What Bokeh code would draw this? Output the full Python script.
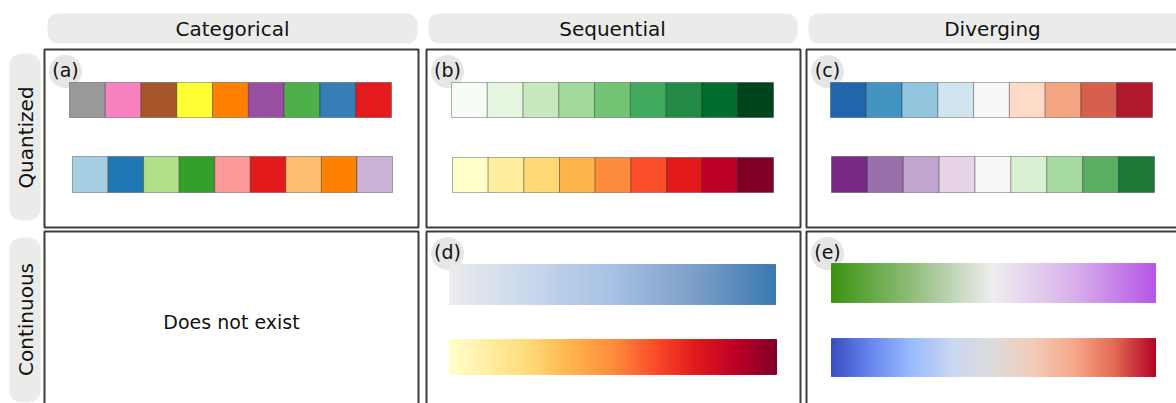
import numpy as np
from bokeh.plotting import figure
from bokeh.models import Range1d, BoxAnnotation, ColumnDataSource
from bokeh.core.properties import value
from bokeh.embed import file_html
from bokeh.resources import INLINE

# ---------------- data ----------------
col_titles = ["Categorical", "Sequential", "Diverging"]
row_titles = ["Quantized", "Continuous"]
panel_labels = ["(a)", "(b)", "(c)", "(d)", "(e)"]
missing_text = "Does not exist"

cat_set1 = ["#999999", "#f781bf", "#a65628", "#ffff33", "#ff7f00",
            "#984ea3", "#4daf4a", "#377eb8", "#e41a1c"]
cat_paired = ["#a6cee3", "#1f78b4", "#b2df8a", "#33a02c", "#fb9a99",
              "#e31a1c", "#fdbf6f", "#ff7f00", "#cab2d6"]
seq_greens = ["#f7fcf5", "#e5f5e0", "#c7e9c0", "#a1d99b", "#74c476",
              "#41ab5d", "#238b45", "#006d2c", "#00441b"]
seq_ylorrd = ["#ffffcc", "#ffeda0", "#fed976", "#feb24c", "#fd8d3c",
              "#fc4e2a", "#e31a1c", "#bd0026", "#800026"]
div_rdbu = ["#2166ac", "#4393c3", "#92c5de", "#d1e5f0", "#f7f7f7",
            "#fddbc7", "#f4a582", "#d6604d", "#b2182b"]
div_prgn = ["#762a83", "#9970ab", "#c2a5cf", "#e7d4e8", "#f7f7f7",
            "#d9f0d3", "#a6dba0", "#5aae61", "#1b7837"]

cont_blues = ["#ececec", "#c8d7ec", "#a6c1e3", "#7d9fc8", "#3b79b2"]
cont_ylorrd = ["#ffffcc", "#ffeda0", "#fed976", "#feb24c", "#fd8d3c",
               "#fc4e2a", "#e31a1c", "#bd0026", "#800026"]
cont_greenpurple = ["#3a9310", "#90bd7b", "#eeeeee", "#d8b0eb", "#b657e6"]
cont_coolwarm = ["#3b4cc0", "#6788ee", "#9abbff", "#c9d7f0", "#dddcdc",
                 "#f2cbb7", "#f7a889", "#e26952", "#b40426"]

# ---------------- layout (page pixel coordinates) ----------------
W, H = 1176, 403
OFF = 0


def X(xi):
    return xi - OFF


def Y(yi):
    return H - (yi - OFF)


col_left = [44, 426, 806]
col_right = [418, 800, 1182]
row_top = [49, 231]
row_bottom = [227, 430]

p = figure(width=W, height=H, output_backend="svg", toolbar_location=None,
           x_range=Range1d(0, W), y_range=Range1d(0, H), min_border=0)
p.axis.visible = False
p.grid.visible = False
p.outline_line_color = None
p.background_fill_color = "white"
p.border_fill_color = "white"

FONT = value("DejaVu Sans")

# header boxes
head_l = [47, 428, 808]
head_r = [417, 797, 1190]
head_cx = [232, 612, 992]
for i, t in enumerate(col_titles):
    p.add_layout(BoxAnnotation(left=X(head_l[i]), right=X(head_r[i]),
                               top=Y(13), bottom=Y(43), fill_color="#ebecea",
                               fill_alpha=1, line_color=None, border_radius=10,
                               level="underlay"))
p.text(x=[X(v) for v in head_cx], y=[Y(28.5)] * 3, text=col_titles,
       text_font=FONT, text_font_size="20px",
       text_align="center", text_baseline="middle", text_color="#111111")

# row label boxes
rl_top = [53, 237]
rl_bot = [220, 402]
for j, t in enumerate(row_titles):
    p.add_layout(BoxAnnotation(left=X(9), right=X(40), top=Y(rl_top[j]),
                               bottom=Y(rl_bot[j]), fill_color="#ebecea",
                               fill_alpha=1, line_color=None, border_radius=12,
                               level="underlay"))
p.text(x=[X(25)] * 2, y=[Y(137), Y(319)],
       text=row_titles, angle=np.pi / 2, text_font=FONT, text_font_size="20px",
       text_align="center", text_baseline="middle", text_color="#111111")

# panels
pl, pr, pt, pb = [], [], [], []
for r in range(2):
    for c in range(3):
        pl.append(X(col_left[c])); pr.append(X(col_right[c]))
        pt.append(Y(row_top[r])); pb.append(Y(row_bottom[r]))
p.quad(left=pl, right=pr, top=pt, bottom=pb, fill_color="white",
       line_color="#3c3c3c", line_width=2)

# panel label circles
lab_panels = [(0, 0), (0, 1), (0, 2), (1, 1), (1, 2)]
cx = [X(col_left[c] + 21) for r, c in lab_panels]
cy = [Y(row_top[r] + 22) for r, c in lab_panels]
p.scatter(x=cx, y=cy, size=33, marker="circle", fill_color="#e6e6e6",
          line_color=None)
p.text(x=cx, y=[Y(row_top[r] + 20) for r, c in lab_panels], text=panel_labels,
       text_font=FONT, text_font_size="19px", text_align="center",
       text_baseline="middle", text_color="#111111")

# quantized swatches
q_rows = [
    (cat_set1, 69, 391, 82, 117),
    (cat_paired, 72, 392, 156, 192),
    (seq_greens, 451, 773, 82, 117),
    (seq_ylorrd, 452, 773, 157, 192),
    (div_rdbu, 830, 1152, 82, 117),
    (div_prgn, 831, 1154, 156, 192),
]
L, R, T, B, C = [], [], [], [], []
for cols, x0, x1, y0, y1 in q_rows:
    n = len(cols)
    w = (x1 - x0) / n
    for k, col in enumerate(cols):
        L.append(X(x0 + k * w)); R.append(X(x0 + (k + 1) * w))
        T.append(Y(y0)); B.append(Y(y1)); C.append(col)
src = ColumnDataSource(dict(left=L, right=R, top=T, bottom=B, color=C))
p.quad(left="left", right="right", top="top", bottom="bottom", source=src,
       fill_color="color", line_color="black", line_alpha=0.3, line_width=1)


# continuous bars
def hex2rgb(h):
    h = h.lstrip("#")
    return np.array([int(h[i:i + 2], 16) for i in (0, 2, 4)], dtype=float)


def ramp(stops, n):
    rgb = np.array([hex2rgb(s) for s in stops])
    pos = np.linspace(0, 1, len(stops))
    t = (np.arange(n) + 0.5) / n
    out = []
    for tt in t:
        c = [np.interp(tt, pos, rgb[:, k]) for k in range(3)]
        out.append("#%02x%02x%02x" % tuple(int(round(v)) for v in c))
    return out


c_rows = [
    (cont_blues, 449, 775, 264, 304),
    (cont_ylorrd, 449, 776, 339, 374),
    (cont_greenpurple, 831, 1155, 263, 302),
    (cont_coolwarm, 831, 1155, 338, 376),
]
L, R, T, B, C = [], [], [], [], []
for stops, x0, x1, y0, y1 in c_rows:
    n = int(x1 - x0)
    cols = ramp(stops, n)
    w = (x1 - x0) / n
    for k, col in enumerate(cols):
        L.append(X(x0 + k * w)); R.append(X(x0 + (k + 1) * w))
        T.append(Y(y0)); B.append(Y(y1)); C.append(col)
src2 = ColumnDataSource(dict(left=L, right=R, top=T, bottom=B, color=C))
p.quad(left="left", right="right", top="top", bottom="bottom", source=src2,
       fill_color="color", line_color="color", line_width=1)

# missing cell text
p.text(x=[X((col_left[0] + col_right[0]) / 2)], y=[Y(321)], text=[missing_text],
       text_font=FONT, text_font_size="19px", text_align="center",
       text_baseline="middle", text_color="#111111")

open("out.html", "w").write(file_html(p, INLINE))
